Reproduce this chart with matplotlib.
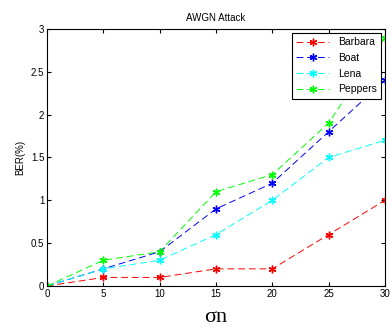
import matplotlib
matplotlib.use("Agg")
import matplotlib.pyplot as plt

plt.rcParams["font.family"] = ["Liberation Sans", "DejaVu Sans"]

sigma = [0, 5, 10, 15, 20, 25, 30]
barbara = [0, 0.1, 0.1, 0.2, 0.2, 0.6, 1.0]
boat = [0, 0.2, 0.4, 0.9, 1.2, 1.8, 2.4]
lena = [0, 0.2, 0.3, 0.6, 1.0, 1.5, 1.7]
peppers = [0, 0.3, 0.4, 1.1, 1.3, 1.9, 2.9]
names = ["Barbara", "Boat", "Lena", "Peppers"]
colors = ["#ff0000", "#0000ff", "#00ffff", "#00ff00"]

fig = plt.figure(figsize=(3.9, 3.29), dpi=100)
ax = fig.add_axes([0.1205, 0.1307, 0.8665, 0.7813])
for ys, n, c in zip([barbara, boat, lena, peppers], names, colors):
    ax.plot(sigma, ys, linestyle=(0, (7, 4)), marker=(6, 2, 0), color=c, lw=0.7,
            markersize=5.5, markeredgewidth=1.0, label=n)
ax.set_xlim(0, 30)
ax.set_ylim(0, 3)
ax.set_xticks(range(0, 31, 5))
ax.set_yticks([0, 0.5, 1, 1.5, 2, 2.5, 3])
ax.set_yticklabels(["0", "0.5", "1", "1.5", "2", "2.5", "3"])
ax.tick_params(direction="in", labelsize=7, length=3, top=True, right=True, pad=2)
for s in ax.spines.values():
    s.set_linewidth(0.8)
ax.set_title("AWGN Attack", fontsize=7, pad=6)
ax.set_ylabel("BER(%)", fontsize=7, labelpad=4)
ax.set_xlabel("σn", fontsize=16, family="Liberation Serif", labelpad=7)
leg = ax.legend(loc="upper right", fontsize=7.5, fancybox=False, edgecolor="black",
                framealpha=1, handlelength=3.2, borderaxespad=0.4, labelspacing=0.55)
leg.get_frame().set_linewidth(0.8)
fig.savefig("out.png", dpi=100)
